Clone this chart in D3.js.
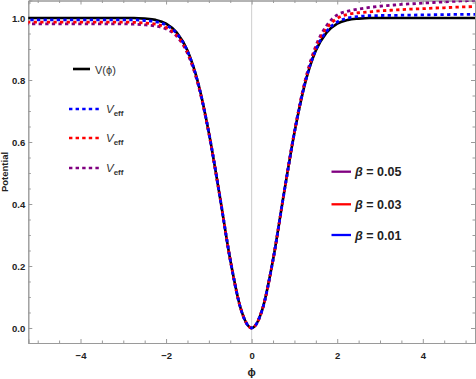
<!DOCTYPE html>
<html><head><meta charset="utf-8">
<script src="https://cdn.jsdelivr.net/npm/d3@7"></script>
<style>
body{margin:0;background:#fff;}
svg{display:block;}
text{font-family:"Liberation Sans",Arial,sans-serif;}
</style></head>
<body>
<svg id="c" width="476" height="379"></svg>
<script>
// ---- data ----
const phi = [-5.25,-5,-4.75,-4.5,-4.25,-4,-3.75,-3.5,-3.25,-3,-2.75,-2.5,-2.25,-2,-1.75,-1.5,-1.25,-1,-0.75,-0.5,-0.25,0,
             0.25,0.5,0.75,1,1.25,1.5,1.75,2,2.25,2.5,2.75,3,3.25,3.5,3.75,4,4.25,4.5,4.75,5,5.25];
const V = [1,1,1,1,1,1,1,1,1,1,1,0.998,0.994,0.982,0.953,0.895,0.79,0.63,0.43,0.22,0.06,0,
           0.06,0.22,0.43,0.63,0.79,0.895,0.953,0.982,0.994,0.998,1,1,1,1,1,1,1,1,1,1,1];
const Veff001 = [0.994,0.994,0.994,0.994,0.994,0.994,0.994,0.994,0.994,0.994,0.994,0.992,0.988,0.977,0.950,0.893,0.789,0.630,0.43,0.22,0.06,0,
                 0.06,0.22,0.43,0.631,0.792,0.898,0.957,0.987,1.0,1.005,1.0075,1.008,1.0085,1.009,1.0095,1.010,1.0105,1.011,1.0115,1.012,1.012];
const Veff003 = [0.987,0.987,0.987,0.987,0.987,0.987,0.987,0.987,0.987,0.987,0.986,0.984,0.980,0.970,0.945,0.889,0.787,0.629,0.43,0.22,0.06,0,
                 0.06,0.22,0.43,0.632,0.795,0.904,0.966,0.999,1.012,1.017,1.020,1.023,1.025,1.027,1.029,1.030,1.032,1.033,1.035,1.036,1.037];
const Veff005 = [0.981,0.981,0.981,0.981,0.981,0.981,0.981,0.981,0.981,0.981,0.980,0.978,0.974,0.965,0.941,0.886,0.785,0.628,0.43,0.22,0.06,0,
                 0.06,0.22,0.43,0.633,0.798,0.910,0.975,1.010,1.022,1.029,1.034,1.038,1.041,1.044,1.046,1.048,1.050,1.052,1.054,1.056,1.058];
const xTicks = [-4,-2,0,2,4];
const xMinor = [-5,-4.5,-3.5,-3,-2.5,-1.5,-1,-0.5,0.5,1,1.5,2.5,3,3.5,4.5,5];
const yTicks = [0,0.2,0.4,0.6,0.8,1.0];
const yMinor = [0.05,0.1,0.15,0.25,0.3,0.35,0.45,0.5,0.55,0.65,0.7,0.75,0.85,0.9,0.95,1.05];
const betas = ["0.05","0.03","0.01"];
const betaColors = ["#800080","#ff0000","#0000ff"];

// ---- layout ----
const svg = d3.select("#c");
const L = 28.3, R = 475, T = 0.5, B = 343;
const x = d3.scaleLinear().domain([-5.22, 5.22]).range([L, R]);
const y = d3.scaleLinear().domain([-0.0484, 1.0565]).range([B, T]);
const frameColor = "#9a9a9a";

svg.append("defs").append("clipPath").attr("id","clip")
  .append("rect").attr("x",L).attr("y",T).attr("width",R-L).attr("height",B-T);

// vertical axis line at phi = 0
svg.append("line").attr("x1",x(0)).attr("x2",x(0)).attr("y1",T).attr("y2",B)
  .attr("stroke","#cfcfcf").attr("stroke-width",1);

function styleAxis(g){
  g.select(".domain").attr("stroke",frameColor);
  g.selectAll(".tick line").attr("stroke",frameColor);
  g.selectAll(".tick text").attr("fill","#222").attr("font-size","9.5px").attr("font-weight","bold");
}
// bottom
svg.append("g").attr("transform",`translate(0,${B})`)
  .call(d3.axisBottom(x).tickValues(xTicks).tickSize(-4).tickPadding(9).tickFormat(d3.format("d")))
  .call(styleAxis);
svg.append("g").attr("transform",`translate(0,${B})`)
  .call(d3.axisBottom(x).tickValues(xMinor).tickSize(-2.5).tickFormat(""))
  .call(styleAxis);
// top
svg.append("g").attr("transform",`translate(0,${T})`)
  .call(d3.axisTop(x).tickValues(xTicks).tickSize(-4).tickFormat(""))
  .call(styleAxis);
svg.append("g").attr("transform",`translate(0,${T})`)
  .call(d3.axisTop(x).tickValues(xMinor).tickSize(-2.5).tickFormat(""))
  .call(styleAxis);
// left
svg.append("g").attr("transform",`translate(${L},0)`)
  .call(d3.axisLeft(y).tickValues(yTicks).tickSize(-4).tickPadding(3).tickFormat(d3.format(".1f")))
  .call(styleAxis);
svg.append("g").attr("transform",`translate(${L},0)`)
  .call(d3.axisLeft(y).tickValues(yMinor).tickSize(-2.5).tickFormat(""))
  .call(styleAxis);
// right
svg.append("g").attr("transform",`translate(${R},0)`)
  .call(d3.axisRight(y).tickValues(yTicks).tickSize(-4).tickFormat(""))
  .call(styleAxis);
svg.append("g").attr("transform",`translate(${R},0)`)
  .call(d3.axisRight(y).tickValues(yMinor).tickSize(-2.5).tickFormat(""))
  .call(styleAxis);

// axis labels
svg.append("text").attr("x",x(0)).attr("y",376).attr("text-anchor","middle")
  .attr("font-size","11px").attr("font-weight","bold").attr("fill","#222").text("ϕ");
svg.append("text").attr("transform",`translate(8,172) rotate(-90)`).attr("text-anchor","middle")
  .attr("font-size","9.5px").attr("font-weight","bold").attr("fill","#222").text("Potential");

// curves
const line = d3.line().x((d,i)=>x(phi[i])).y(d=>y(d)).curve(d3.curveMonotoneX);
const plot = svg.append("g").attr("clip-path","url(#clip)");
plot.append("path").attr("d",line(V)).attr("fill","none").attr("stroke","#000").attr("stroke-width",2.6);
const dashed = [
  {data:Veff005, color:"#800080", off:1.6},
  {data:Veff003, color:"#ff0000", off:0},
  {data:Veff001, color:"#0000ff", off:3.3}
];
dashed.forEach(s=>{
  plot.append("path").attr("d",line(s.data)).attr("fill","none").attr("stroke",s.color)
    .attr("stroke-width",2.8).attr("stroke-dasharray","3.3,3.3").attr("stroke-dashoffset",s.off);
});

// legend 1
const lg = svg.append("g");
lg.append("line").attr("x1",73).attr("x2",90).attr("y1",69).attr("y2",69).attr("stroke","#000").attr("stroke-width",2.6);
lg.append("text").attr("x",95).attr("y",73.5).attr("font-size","11px").attr("fill","#333").text("V(ϕ)");
const effCols = ["#0000ff","#ff0000","#800080"];
const effY = [109,138,168];
effCols.forEach((c,i)=>{
  lg.append("line").attr("x1",69).attr("x2",100).attr("y1",effY[i]).attr("y2",effY[i])
    .attr("stroke",c).attr("stroke-width",2.7).attr("stroke-dasharray","3.4,3.2");
  const t = lg.append("text").attr("x",106).attr("y",effY[i]+4).attr("fill","#333");
  t.append("tspan").attr("font-size","11.5px").attr("font-style","italic").text("V");
  t.append("tspan").attr("font-size","8px").attr("font-weight","bold").attr("dy",2.5).text("eff");
});

// legend 2
const by = [171.7,204.3,235];
betas.forEach((b,i)=>{
  svg.append("line").attr("x1",331.5).attr("x2",351).attr("y1",by[i]).attr("y2",by[i])
    .attr("stroke",betaColors[i]).attr("stroke-width",2.3);
  const t = svg.append("text").attr("x",355).attr("y",by[i]+4.5).attr("font-size","12.5px").attr("font-weight","bold").attr("fill","#222");
  t.append("tspan").attr("font-style","italic").text("β");
  t.append("tspan").text(" = " + b);
});
</script>
</body></html>
